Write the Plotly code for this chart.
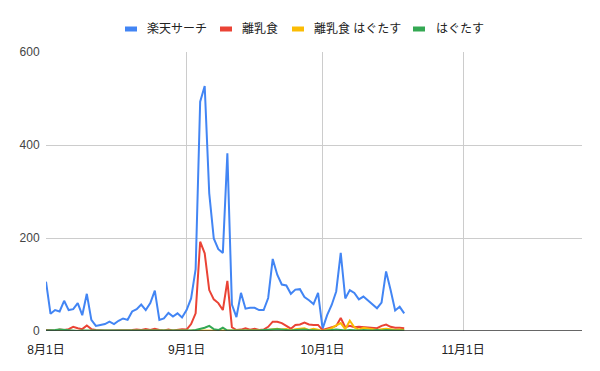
import plotly.graph_objects as go
import pandas as pd

dates = pd.date_range("2023-08-01", periods=80, freq="D")

series_names = ["楽天サーチ", "離乳食", "離乳食 はぐたす", "はぐたす"]
series_colors = ["#4285F4", "#EA4335", "#FBBC04", "#34A853"]

rakuten_search = [106, 37, 45, 42, 65, 45, 47, 60, 34, 80,
                  24, 11, 13, 15, 20, 15, 22, 27, 24, 42,
                  47, 57, 45, 60, 87, 24, 27, 39, 31, 38,
                  29, 45, 70, 133, 493, 527, 296, 199, 176, 168,
                  382, 57, 30, 82, 48, 50, 50, 45, 45, 71,
                  155, 121, 100, 98, 80, 89, 90, 73, 66, 58,
                  82, 5, 34, 56, 85, 168, 70, 88, 82, 68,
                  74, 65, 57, 49, 61, 128, 88, 44, 52, 38]

rinyushoku = [2, 2, 1, 3, 2, 4, 9, 6, 4, 12,
              4, 2, 1, 1, 1, 1, 1, 2, 1, 2,
              3, 2, 4, 2, 5, 2, 1, 3, 1, 2,
              4, 3, 15, 38, 192, 167, 88, 68, 60, 45,
              108, 8, 2, 3, 6, 3, 5, 2, 3, 9,
              20, 20, 17, 11, 5, 13, 14, 18, 14, 13,
              13, 2, 5, 7, 11, 28, 8, 11, 8, 9,
              8, 8, 6, 6, 11, 14, 9, 7, 7, 6]

rinyushoku_hagutasu = [0, 0, 0, 0, 0, 0, 0, 0, 0, 0,
                       0, 0, 0, 0, 0, 0, 0, 0, 0, 0,
                       0, 0, 0, 0, 0, 0, 0, 0, 0, 0,
                       0, 0, 0, 0, 0, 0, 0, 0, 0, 0,
                       0, 0, 0, 0, 0, 0, 0, 0, 1, 2,
                       3, 5, 3, 4, 1, 4, 5, 6, 2, 5,
                       3, 0, 3, 6, 12, 17, 4, 22, 8, 3,
                       7, 5, 3, 2, 4, 5, 4, 2, 3, 2]

hagutasu = [1, 1, 2, 3, 2, 1, 1, 0, 1, 1,
            0, 0, 0, 1, 0, 0, 1, 0, 0, 1,
            0, 1, 0, 0, 1, 0, 0, 1, 0, 0,
            1, 0, 1, 2, 4, 7, 11, 4, 2, 7,
            1, 1, 0, 1, 0, 1, 1, 1, 2, 3,
            4, 4, 3, 2, 1, 2, 3, 3, 2, 1,
            1, 0, 1, 2, 3, 2, 1, 2, 1, 1,
            2, 1, 1, 2, 1, 2, 1, 1, 1, 1]

tick_dates = ["2023-08-01", "2023-09-01", "2023-10-01", "2023-11-01"]
tick_labels = ["8月1日", "9月1日", "10月1日", "11月1日"]
y_ticks = [0, 200, 400, 600]

FONT = "Arial, 'Liberation Sans', 'Noto Sans CJK JP', sans-serif"

fig = go.Figure()
for name, vals, col in zip(series_names,
                           [rakuten_search, rinyushoku, rinyushoku_hagutasu, hagutasu],
                           series_colors):
    fig.add_trace(go.Scatter(x=dates, y=vals, mode="lines", name=name,
                             line=dict(color=col, width=2), showlegend=False))

# custom legend (Google-Charts style short swatches)
L, R, T, B = 46, 18, 52, 40
W, H = 600, 371
pw, ph = W - L - R, H - T - B

def px_x(px):
    return (px - L) / pw

def px_y(py):
    return (H - B - py) / ph

legend_items = [(125, 145), (220, 240), (292, 312), (413, 434)]
leg_y = 29
for (sx, tx), name, col in zip(legend_items, series_names, series_colors):
    fig.add_shape(type="line", xref="paper", yref="paper",
                  x0=px_x(sx), x1=px_x(sx + 12), y0=px_y(leg_y), y1=px_y(leg_y),
                  line=dict(color=col, width=5))
    fig.add_annotation(xref="paper", yref="paper", x=px_x(tx), y=px_y(leg_y),
                       text=name, showarrow=False, xanchor="left", yanchor="middle",
                       font=dict(size=12, color="#222222", family=FONT))

fig.update_layout(
    width=W, height=H,
    margin=dict(l=L, r=R, t=T, b=B),
    paper_bgcolor="white", plot_bgcolor="white",
    font=dict(family=FONT, size=12, color="#444444"),
    xaxis=dict(range=["2023-08-01", "2023-11-27 05:00"],
               tickvals=tick_dates, ticktext=tick_labels,
               showgrid=True, gridcolor="#cccccc", gridwidth=1,
               zeroline=False, showline=False,
               ticks="outside", ticklen=8, tickcolor="rgba(0,0,0,0)",
               tickfont=dict(size=12, color="#222222")),
    yaxis=dict(range=[0, 600], tickvals=y_ticks,
               showgrid=True, gridcolor="#cccccc", gridwidth=1,
               zeroline=False, showline=False,
               ticks="outside", ticklen=3, tickcolor="rgba(0,0,0,0)",
               tickfont=dict(size=12, color="#444444")),
)
fig.add_shape(type="line", xref="paper", yref="y", x0=0, x1=1, y0=0, y1=0,
              line=dict(color="#333333", width=1.5), layer="above")

fig.write_html("out.html")
